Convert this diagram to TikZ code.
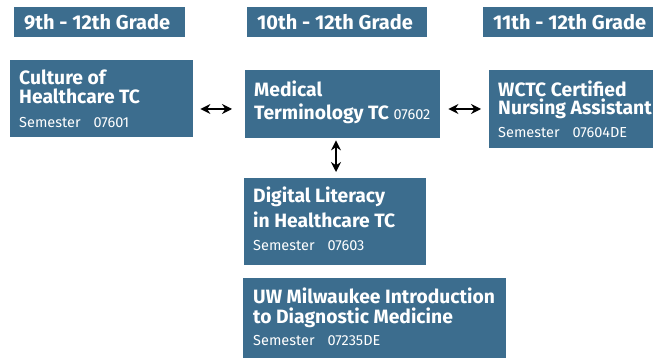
\documentclass[tikz,border=0pt]{standalone}
\usepackage{fontspec}
\setmainfont{Fira Sans}
\usetikzlibrary{arrows.meta}
\definecolor{boxblue}{HTML}{3C6D8E}
\tikzset{
  x=1pt,y=-1pt,
  bluebox/.style={fill=boxblue,draw=none,inner sep=0pt},
  ttl/.style={anchor=base west,inner sep=0pt,text=white,font=\fontsize{19.3}{21}\selectfont\bfseries},
  hdr/.style={anchor=base west,inner sep=0pt,text=white,font=\fontsize{20}{22}\selectfont\bfseries},
  sem/.style={anchor=base west,inner sep=0pt,text=white,font=\fontsize{14.5}{16}\selectfont},
  dbl/.style={{Stealth[length=10pt,width=10pt]}-{Stealth[length=10pt,width=10pt]},line width=1.3pt,black}
}
\newcommand{\gp}{\hspace{13pt}}
\begin{document}
\begin{tikzpicture}
\useasboundingbox (0,0) rectangle (653,358);
% headers
\node[bluebox,minimum width=171,minimum height=30,anchor=north west] (g1) at (14,7) {};
\node[hdr] (h1) at (24,30) {9th - 12th Grade};
\node[bluebox,minimum width=180,minimum height=30,anchor=north west] (g2) at (247,7) {};
\node[hdr] (h2) at (257,30) {10th - 12th Grade};
\node[bluebox,minimum width=175,minimum height=30,anchor=north west] (g3) at (483,7) {};
\node[hdr] (h3) at (493,30) {11th - 12th Grade};
% boxes
\node[bluebox,minimum width=183,minimum height=77,anchor=north west] (cult) at (10,60) {};
\node[ttl] (cult1) at (19,85) {Culture of};
\node[ttl] (cult2) at (19,104) {Healthcare TC};
\node[sem] (cult3) at (19,128) {Semester\gp 07601};
\node[bluebox,minimum width=195,minimum height=68,anchor=north west] (med) at (245,70) {};
\node[ttl] (med1) at (254,97) {Medical};
\node[ttl] (med2) at (254,120) {Terminology TC \fontsize{14.5}{16}\selectfont\mdseries 07602};
\node[bluebox,minimum width=170,minimum height=78,anchor=north west] (wctc) at (489,70) {};
\node[ttl] (wctc1) at (498,97) {WCTC Certified};
\node[ttl] (wctc2) at (498,115) {Nursing Assistant};
\node[sem] (wctc3) at (498,138) {Semester\gp 07604DE};
\node[bluebox,minimum width=182,minimum height=87,anchor=north west] (dig) at (244,178) {};
\node[ttl] (dig1) at (253,203) {Digital Literacy};
\node[ttl] (dig2) at (253,228) {in Healthcare TC};
\node[sem] (dig3) at (253,251) {Semester\gp 07603};
\node[bluebox,minimum width=263,minimum height=82,anchor=north west] (uw) at (243,278) {};
\node[ttl] (uw1) at (253,303) {UW Milwaukee Introduction};
\node[ttl] (uw2) at (253,323) {to Diagnostic Medicine};
\node[sem] (uw3) at (253,345) {Semester\gp 07235DE};
% arrows
\draw[dbl] ([xshift=7pt]cult.east |- 0,109) -- ([xshift=-13pt]med.west |- 0,109);
\draw[dbl] ([xshift=8pt]med.east |- 0,109) -- ([xshift=-8pt]wctc.west |- 0,109);
\draw[dbl] ([yshift=-2pt]med.south -| 336,0) -- ([yshift=6pt]dig.north -| 336,0);
\end{tikzpicture}
\end{document}
